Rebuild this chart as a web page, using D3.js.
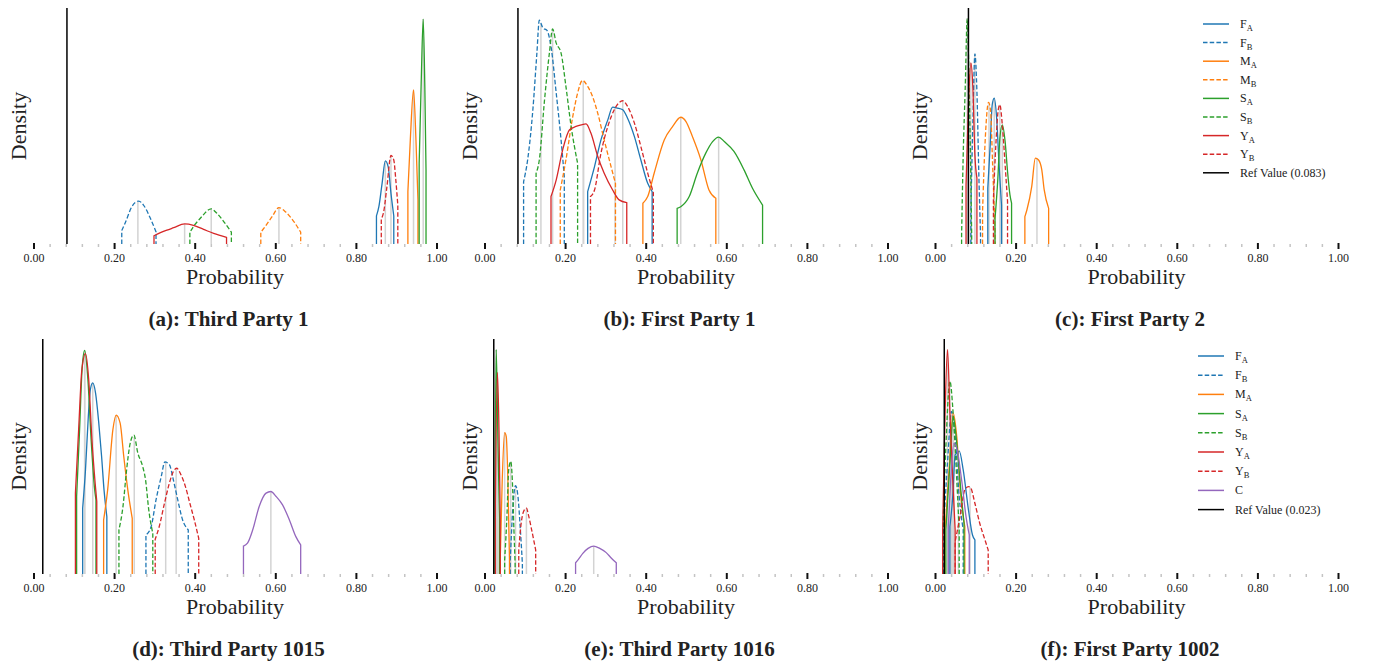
<!DOCTYPE html>
<html>
<head>
<meta charset="utf-8">
<script src="https://cdn.jsdelivr.net/npm/d3@7"></script>
<style>
body { margin: 0; background: #ffffff; }
text { font-family: "Liberation Serif", "Times New Roman", serif; fill: #222; }
</style>
</head>
<body>
<div id="chart-area"></div>
<script>

// DENSITY PLOTS - PROBABILITY PER GROUP

// tick labels
const majorTicks = [0, 0.2, 0.4, 0.6, 0.8, 1.0]
const minorTicks = [0.04, 0.08, 0.12, 0.16, 0.24, 0.28, 0.32, 0.36, 0.44, 0.48, 0.52, 0.56,
    0.64, 0.68, 0.72, 0.76, 0.84, 0.88, 0.92, 0.96]

// density curves, p = probability, d = density (arbitrary units), median = grey marker
const thirdParty1 = [
    { key: "FA", median: 0.873, p: [0.851, 0.857, 0.865, 0.873, 0.880, 0.887, 0.894], d: [11.9, 15.8, 25.7, 35.2, 32.8, 21.5, 11.9] },
    { key: "FB", median: 0.259, p: [0.219, 0.228, 0.244, 0.261, 0.273, 0.290, 0.304], d: [5.7, 9.1, 15.8, 18.2, 16.5, 10.9, 5.2] },
    { key: "MA", median: 0.943, p: [0.929, 0.935, 0.943, 0.949, 0.954], d: [22.2, 44.1, 65.3, 44.1, 18.7] },
    { key: "MB", median: 0.609, p: [0.564, 0.575, 0.592, 0.609, 0.625, 0.646, 0.663], d: [5.0, 7.4, 11.6, 15.4, 13.7, 9.5, 5.0] },
    { key: "SA", median: 0.967, p: [0.957, 0.962, 0.967, 0.971, 0.974], d: [34.2, 68.2, 95.3, 66.8, 31.4] },
    { key: "SB", median: 0.441, p: [0.388, 0.397, 0.414, 0.441, 0.455, 0.472, 0.491], d: [5.0, 7.4, 10.9, 14.9, 13.0, 9.5, 5.0] },
    { key: "YA", median: 0.375, p: [0.299, 0.315, 0.331, 0.348, 0.375, 0.397, 0.422, 0.447, 0.479], d: [3.5, 4.8, 5.9, 6.9, 8.5, 7.9, 6.2, 4.5, 2.8] },
    { key: "YB", median: 0.887, p: [0.863, 0.869, 0.877, 0.887, 0.894, 0.899, 0.904], d: [10.6, 13.7, 24.3, 37.5, 35.6, 27.2, 16.5] }
]

const firstParty1 = [
    { key: "FA", median: 0.324, p: [0.256, 0.273, 0.289, 0.306, 0.318, 0.330, 0.343, 0.355, 0.372, 0.388, 0.405, 0.416], d: [22.2, 32.8, 44.1, 52.6, 58.0, 57.6, 56.9, 53.3, 45.5, 35.6, 25.7, 22.2] },
    { key: "FB", median: 0.140, p: [0.097, 0.107, 0.120, 0.130, 0.136, 0.145, 0.155, 0.165, 0.178, 0.190, 0.198], d: [26.4, 35.6, 56.9, 80.9, 94.8, 91.5, 90.5, 83.7, 63.9, 44.1, 28.6] },
    { key: "MA", median: 0.487, p: [0.393, 0.405, 0.421, 0.446, 0.467, 0.487, 0.500, 0.516, 0.537, 0.557, 0.574], d: [17.3, 20.1, 30.0, 44.1, 49.8, 53.7, 51.9, 45.5, 35.6, 22.9, 19.4] },
    { key: "MB", median: 0.245, p: [0.188, 0.202, 0.219, 0.231, 0.243, 0.256, 0.268, 0.281, 0.297, 0.314, 0.325], d: [22.9, 35.6, 54.0, 63.9, 69.3, 66.8, 62.5, 55.4, 44.1, 32.8, 25.7] },
    { key: "SA", median: 0.581, p: [0.478, 0.487, 0.508, 0.528, 0.549, 0.566, 0.581, 0.595, 0.619, 0.644, 0.665, 0.690], d: [15.1, 15.8, 20.1, 30.0, 38.5, 43.4, 45.3, 43.4, 39.2, 31.4, 23.6, 16.5] },
    { key: "SB", median: 0.169, p: [0.128, 0.136, 0.149, 0.161, 0.169, 0.178, 0.190, 0.202, 0.215, 0.231], d: [30.0, 35.6, 61.1, 80.9, 91.1, 85.1, 80.9, 66.8, 49.8, 34.2] },
    { key: "YA", median: 0.246, p: [0.165, 0.178, 0.194, 0.211, 0.227, 0.240, 0.252, 0.264, 0.281, 0.297, 0.318, 0.334, 0.353], d: [20.1, 27.2, 39.9, 48.4, 49.8, 50.5, 50.9, 47.0, 37.1, 30.0, 22.9, 18.7, 17.5] },
    { key: "YB", median: 0.343, p: [0.263, 0.273, 0.289, 0.306, 0.322, 0.343, 0.355, 0.372, 0.388, 0.405, 0.419], d: [20.1, 22.9, 38.5, 49.8, 56.9, 60.7, 58.3, 51.2, 41.3, 30.0, 21.8] }
]

const firstParty2 = [
    { key: "FA", median: 0.147, p: [0.131, 0.137, 0.142, 0.147, 0.153, 0.159, 0.165], d: [23.6, 42.0, 59.0, 61.8, 53.3, 33.5, 16.5] },
    { key: "FB", median: 0.099, p: [0.089, 0.094, 0.099, 0.104, 0.109, 0.113], d: [13.7, 51.9, 80.5, 64.6, 27.9, 3.8] },
    { key: "MA", median: 0.253, p: [0.223, 0.228, 0.240, 0.249, 0.257, 0.265, 0.271, 0.282], d: [11.6, 14.4, 24.3, 36.4, 35.6, 31.4, 22.9, 15.1] },
    { key: "MB", median: 0.134, p: [0.118, 0.124, 0.133, 0.138, 0.143, 0.149], d: [13.7, 42.0, 60.0, 56.2, 33.5, 5.2] },
    { key: "SA", median: 0.167, p: [0.149, 0.156, 0.161, 0.167, 0.174, 0.180, 0.186, 0.190], d: [10.9, 27.9, 44.8, 50.5, 43.4, 30.7, 20.8, 17.3] },
    { key: "SB", median: 0.080, p: [0.066, 0.070, 0.075, 0.080, 0.084, 0.088, 0.091], d: [3.8, 37.8, 66.1, 95.5, 73.1, 37.8, 3.8] },
    { key: "YA", median: 0.089, p: [0.077, 0.083, 0.089, 0.094, 0.099, 0.104], d: [25.0, 59.0, 76.7, 66.1, 37.8, 27.9] },
    { key: "YB", median: 0.161, p: [0.145, 0.151, 0.157, 0.161, 0.167, 0.174, 0.180], d: [19.4, 42.0, 56.9, 59.0, 50.5, 33.5, 18.0] }
]

const thirdParty1015 = [
    { key: "FA", median: 0.147, p: [0.122, 0.129, 0.136, 0.141, 0.147, 0.154, 0.162, 0.169, 0.175, 0.182], d: [28.0, 44.3, 67.0, 78.4, 81.3, 77.0, 64.2, 50.0, 35.8, 24.4] },
    { key: "FB", median: 0.328, p: [0.279, 0.292, 0.304, 0.317, 0.326, 0.337, 0.347, 0.358, 0.370, 0.384], d: [16.6, 20.2, 31.5, 41.5, 47.7, 46.6, 40.1, 31.5, 23.0, 18.8] },
    { key: "MA", median: 0.205, p: [0.174, 0.184, 0.197, 0.205, 0.215, 0.224, 0.234, 0.245], d: [23.0, 35.8, 61.4, 67.6, 64.2, 50.0, 35.8, 23.7] },
    { key: "SA", median: 0.127, p: [0.107, 0.114, 0.121, 0.127, 0.135, 0.143, 0.151, 0.155], d: [33.0, 59.9, 88.4, 95.2, 82.7, 57.1, 37.2, 31.5] },
    { key: "SB", median: 0.250, p: [0.212, 0.222, 0.231, 0.240, 0.249, 0.259, 0.271, 0.278, 0.286, 0.296], d: [18.8, 28.7, 44.3, 55.7, 59.1, 51.4, 45.7, 40.1, 27.3, 17.3] },
    { key: "YA", median: 0.127, p: [0.104, 0.112, 0.120, 0.129, 0.137, 0.145, 0.153, 0.157], d: [34.4, 61.4, 86.9, 93.8, 82.7, 57.1, 38.6, 30.8] },
    { key: "YB", median: 0.354, p: [0.302, 0.312, 0.325, 0.337, 0.347, 0.355, 0.366, 0.377, 0.388, 0.399, 0.410], d: [14.8, 20.2, 30.1, 38.6, 43.6, 45.0, 42.2, 37.2, 30.1, 23.0, 15.2] },
    { key: "C", median: 0.589, p: [0.521, 0.531, 0.544, 0.560, 0.577, 0.589, 0.602, 0.618, 0.635, 0.651, 0.663], d: [11.9, 13.1, 18.8, 28.7, 34.4, 35.1, 33.0, 29.4, 23.0, 15.9, 12.4] }
]

const thirdParty1016 = [
    { key: "FB", median: 0.077, p: [0.064, 0.070, 0.077, 0.083, 0.089, 0.094], d: [6.0, 27.3, 37.6, 33.0, 18.8, 4.5] },
    { key: "MA", median: 0.050, p: [0.039, 0.044, 0.050, 0.054, 0.058, 0.062], d: [6.0, 40.0, 60.2, 58.5, 40.0, 6.0] },
    { key: "SA", median: 0.029, p: [0.026, 0.029, 0.033, 0.037], d: [33.0, 95.5, 61.0, 24.0] },
    { key: "SB", median: 0.065, p: [0.050, 0.056, 0.060, 0.065, 0.069, 0.073, 0.076], d: [6.0, 25.9, 44.3, 47.9, 40.1, 18.8, 4.5] },
    { key: "YA", median: 0.032, p: [0.027, 0.032, 0.036, 0.039], d: [30.0, 85.8, 61.0, 24.0] },
    { key: "YB", median: 0.104, p: [0.085, 0.091, 0.097, 0.104, 0.110, 0.117, 0.127], d: [10.2, 21.6, 26.6, 28.0, 24.4, 18.8, 10.2] },
    { key: "C", median: 0.271, p: [0.226, 0.232, 0.244, 0.257, 0.271, 0.286, 0.302, 0.315, 0.327], d: [4.8, 6.0, 8.8, 10.9, 11.9, 10.9, 9.1, 6.7, 4.8] }
]

const firstParty1002 = [
    { key: "FA", median: 0.058, p: [0.037, 0.044, 0.050, 0.055, 0.060, 0.070, 0.083, 0.093, 0.099], d: [20.2, 33.0, 50.7, 51.4, 52.4, 44.3, 27.3, 16.6, 14.5] },
    { key: "FB", median: 0.041, p: [0.021, 0.031, 0.041, 0.050, 0.060, 0.070], d: [18.8, 47.2, 69.2, 58.5, 33.0, 18.8] },
    { key: "MA", median: 0.045, p: [0.025, 0.036, 0.045, 0.054, 0.064, 0.074], d: [18.8, 47.2, 68.5, 58.5, 33.0, 20.2] },
    { key: "SA", median: 0.045, p: [0.027, 0.037, 0.045, 0.054, 0.064, 0.072], d: [18.8, 47.2, 67.0, 55.7, 35.8, 21.6] },
    { key: "SB", median: 0.037, p: [0.019, 0.027, 0.037, 0.045, 0.054, 0.060], d: [15.9, 54.3, 82.0, 68.5, 40.1, 18.8] },
    { key: "YA", median: 0.031, p: [0.019, 0.025, 0.031, 0.037, 0.044, 0.050], d: [18.8, 68.5, 95.5, 68.5, 40.1, 18.8] },
    { key: "YB", median: 0.087, p: [0.050, 0.062, 0.074, 0.083, 0.088, 0.099, 0.111, 0.124, 0.132], d: [13.8, 24.4, 35.8, 37.2, 36.8, 30.1, 21.6, 14.5, 10.2] },
    { key: "C", median: 0.047, p: [0.033, 0.039, 0.047, 0.055, 0.066, 0.077, 0.085], d: [20.2, 40.1, 55.7, 52.8, 40.1, 24.4, 16.6] }
]

const panelTitles = ["(a): Third Party 1", "(b): First Party 1", "(c): First Party 2",
    "(d): Third Party 1015", "(e): Third Party 1016", "(f): First Party 1002"]
const panelSeries = [thirdParty1, firstParty1, firstParty2, thirdParty1015, thirdParty1016, firstParty1002]
const refValues = [0.083, 0.083, 0.083, 0.023, 0.023, 0.023]
const legendKeysTop = ["FA", "FB", "MA", "MB", "SA", "SB", "YA", "YB"]
const legendKeysBottom = ["FA", "FB", "MA", "SA", "SB", "YA", "YB", "C"]

// styles
const colors = { F: "#1f77b4", M: "#ff7f0e", S: "#2ca02c", Y: "#d62728", C: "#9467bd" }
const DASH = "4.5,2.2"
const styleOf = key => ({ color: colors[key[0]], dash: key[1] === "B" ? DASH : null })

// layout
const COL_X = [33.5, 484.5, 935]
const AXIS_W = 403
const ROW_BASE = [244, 574]
const ROW_TOP = [8, 339]
const LEGEND_X = [1203, 1198]
const LEGEND_Y = [24, 356]
const LEGEND_STEP = [18.6, 19.2]

const svg = d3.select("#chart-area").append("svg")
    .attr("width", 1375)
    .attr("height", 666)

panelSeries.forEach((series, i) => {
    const col = i % 3
    const row = Math.floor(i / 3)
    const x0 = COL_X[col]
    const base = ROW_BASE[row]
    const top = ROW_TOP[row]

    const x = d3.scaleLinear().domain([0, 1]).range([x0, x0 + AXIS_W])
    const y = d3.scaleLinear().domain([0, 100]).range([base, top])

    const g = svg.append("g").attr("class", "panel")

    // axis ticks
    const minorAxis = d3.axisBottom(x).tickValues(minorTicks).tickSize(3).tickFormat("")
    g.append("g")
        .attr("transform", `translate(0, ${base})`)
        .call(minorAxis)
        .call(a => a.select(".domain").remove())
        .call(a => a.selectAll("line").attr("stroke", "#c4c4c4").attr("stroke-width", 1.5))

    const xAxis = d3.axisBottom(x).tickValues(majorTicks).tickSize(5).tickPadding(4)
        .tickFormat(d3.format(".2f"))
    g.append("g")
        .attr("transform", `translate(0, ${base})`)
        .call(xAxis)
        .call(a => a.select(".domain").remove())
        .call(a => a.selectAll("line").attr("stroke", "#111").attr("stroke-width", 2).attr("y1", -1))
        .call(a => a.selectAll("text")
            .attr("font-family", "'Liberation Serif', serif")
            .attr("font-size", "12px")
            .attr("fill", "#222"))

    // axis labels
    g.append("text")
        .attr("x", x0 + AXIS_W / 2)
        .attr("y", base + 40)
        .attr("text-anchor", "middle")
        .attr("font-size", "22px")
        .text("Probability")

    g.append("text")
        .attr("transform", `translate(${x0 - 8}, ${(base + top) / 2}) rotate(-90)`)
        .attr("text-anchor", "middle")
        .attr("font-size", "22px")
        .text("Density")

    g.append("text")
        .attr("x", x0 + 195)
        .attr("y", base + 81.5)
        .attr("text-anchor", "middle")
        .attr("font-size", "21px")
        .attr("font-weight", "bold")
        .text(panelTitles[i])

    // median markers
    series.forEach(s => {
        const h = d3.scaleLinear().domain(s.p).range(s.d)(s.median)
        g.append("line")
            .attr("x1", x(s.median)).attr("x2", x(s.median))
            .attr("y1", y(0)).attr("y2", y(h))
            .attr("stroke", "#d3d3d3")
            .attr("stroke-width", 1.5)
    })

    // density curves
    const line = d3.line()
        .x(v => x(v[0]))
        .y(v => y(v[1]))
        .curve(d3.curveMonotoneX)

    series.forEach(s => {
        const pts = s.p.map((v, k) => [v, s.d[k]])
        const st = styleOf(s.key)
        const path = `M${x(s.p[0])},${y(0)}L` + line(pts).slice(1) + `L${x(s.p[s.p.length - 1])},${y(0)}`
        g.append("path")
            .attr("d", path)
            .attr("fill", "none")
            .attr("stroke", st.color)
            .attr("stroke-width", 1.3)
            .attr("stroke-dasharray", st.dash)
    })

    // reference value
    g.append("line")
        .attr("x1", x(refValues[i])).attr("x2", x(refValues[i]))
        .attr("y1", y(0)).attr("y2", top)
        .attr("stroke", "#000")
        .attr("stroke-width", 1.5)

    // legend on the right column
    if (col === 2) {
        const keys = row === 0 ? legendKeysTop : legendKeysBottom
        const items = keys.concat(["REF"])
        const legend = g.append("g").attr("class", "legend")
        items.forEach((key, k) => {
            const ly = LEGEND_Y[row] + k * LEGEND_STEP[row]
            const st = key === "REF" ? { color: "#000", dash: null } : styleOf(key)
            legend.append("line")
                .attr("x1", LEGEND_X[row]).attr("x2", LEGEND_X[row] + 26)
                .attr("y1", ly).attr("y2", ly)
                .attr("stroke", st.color)
                .attr("stroke-width", 1.5)
                .attr("stroke-dasharray", st.dash)
            const t = legend.append("text")
                .attr("x", LEGEND_X[row] + 37)
                .attr("y", ly + 4)
                .attr("font-size", "12px")
            if (key === "REF") {
                t.text(`Ref Value (${refValues[i]})`)
            } else {
                t.append("tspan").text(key[0])
                if (key[1]) {
                    t.append("tspan").attr("dy", 3).attr("font-size", "8.5px").text(key[1])
                }
            }
        })
    }
})

</script>
</body>
</html>
